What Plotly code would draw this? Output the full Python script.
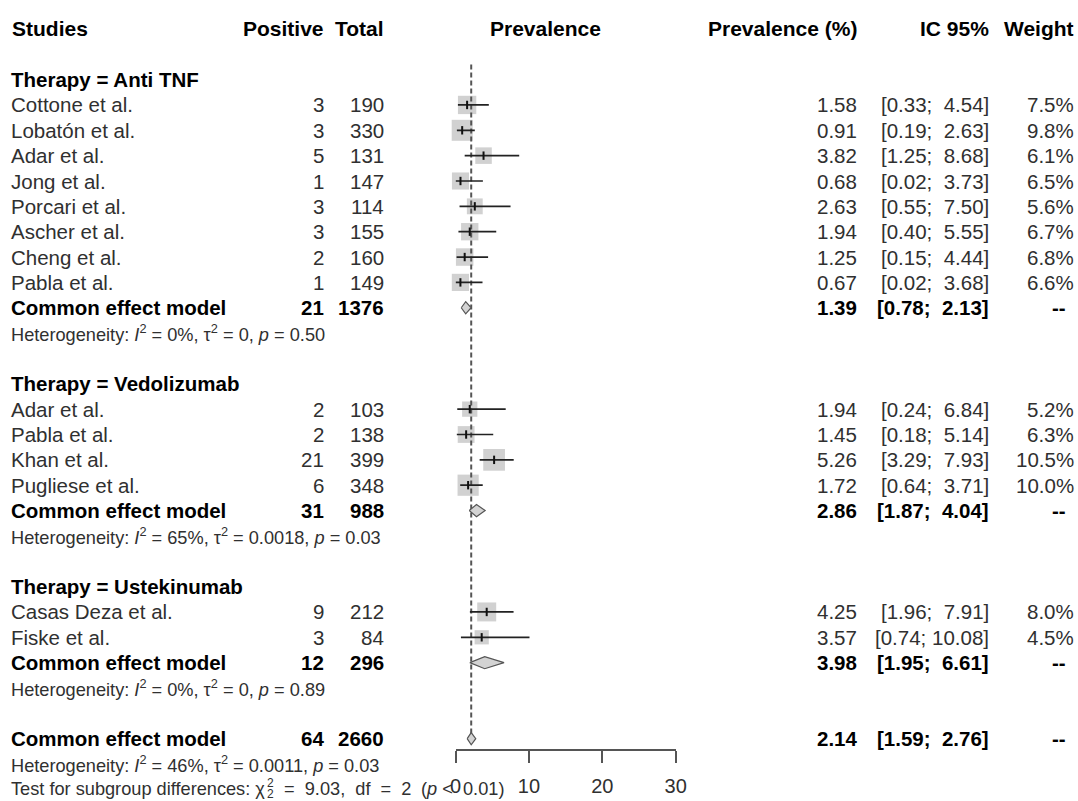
import math
import plotly.graph_objects as go

# ---- data -------------------------------------------------------------
groups = ["Anti TNF", "Vedolizumab", "Ustekinumab"]

study_names = [
    "Cottone et al.", "Lobatón et al.", "Adar et al.", "Jong et al.",
    "Porcari et al.", "Ascher et al.", "Cheng et al.", "Pabla et al.",
    "Adar et al.", "Pabla et al.", "Khan et al.", "Pugliese et al.",
    "Casas Deza et al.", "Fiske et al.",
]
study_group = [0, 0, 0, 0, 0, 0, 0, 0, 1, 1, 1, 1, 2, 2]
positive = [3, 3, 5, 1, 3, 3, 2, 1, 2, 2, 21, 6, 9, 3]
total = [190, 330, 131, 147, 114, 155, 160, 149, 103, 138, 399, 348, 212, 84]
prevalence = [1.58, 0.91, 3.82, 0.68, 2.63, 1.94, 1.25, 0.67,
              1.94, 1.45, 5.26, 1.72, 4.25, 3.57]
ci_lower = [0.33, 0.19, 1.25, 0.02, 0.55, 0.40, 0.15, 0.02,
            0.24, 0.18, 3.29, 0.64, 1.96, 0.74]
ci_upper = [4.54, 2.63, 8.68, 3.73, 7.50, 5.55, 4.44, 3.68,
            6.84, 5.14, 7.93, 3.71, 7.91, 10.08]
weight = [7.5, 9.8, 6.1, 6.5, 5.6, 6.7, 6.8, 6.6,
          5.2, 6.3, 10.5, 10.0, 8.0, 4.5]

grp_positive = [21, 31, 12]
grp_total = [1376, 988, 296]
grp_prev = [1.39, 2.86, 3.98]
grp_lower = [0.78, 1.87, 1.95]
grp_upper = [2.13, 4.04, 6.61]
grp_i2 = ["0%", "65%", "0%"]
grp_tau2 = ["0", "0.0018", "0"]
grp_p = ["0.50", "0.03", "0.89"]

all_positive = 64
all_total = 2660
all_prev = 2.14
all_lower = 1.59
all_upper = 2.76
all_i2 = "46%"
all_tau2 = "0.0011"
all_p = "0.03"
test_chi2 = "9.03"
test_df = "2"
test_p = "0.01"

x_ticks = [0, 10, 20, 30]

# ---- page geometry ----------------------------------------------------
W, H = 1078, 801
FONT = "Liberation Sans, Arial, sans-serif"
REG = "#303030"
BLK = "#000000"
ROW0_PX = 79.6      # pixel centre of the first group header
ROW_PX = 25.35      # row pitch
AXIS_PX = 750       # pixel row of the x-axis line
X0_PX, X1_PX = 455.5, 675.7   # forest panel, 0..30

y_top = (0 - ROW0_PX) / ROW_PX
y_bot = (H - ROW0_PX) / ROW_PX

# column positions (px)
C_STUDY = 10
C_POS = 325
C_TOT = 385
C_FOREST_HDR = 546
C_PREV = 858
C_CI = 990
C_W = 1075
C_DASH = 1067

NB = "\u00a0"
MAIN = 20.5
SMALL = 18.2


def fmt_ci(lo, up):
    return "[" + f"{lo:.2f};" + NB + f"{up:.2f}".rjust(5).replace(" ", NB) + "]"


annotations = []


def txt(xpx, row, s, anchor="left", size=MAIN, bold=False, color=None):
    annotations.append(dict(
        xref="paper", yref="y", x=xpx / W, y=row, text=s,
        xanchor=anchor, yanchor="middle", showarrow=False, borderpad=0,
        font=dict(family=FONT, size=size,
                  color=color or (BLK if bold else REG),
                  weight="bold" if bold else "normal"),
    ))


def het_text(i2, tau2, p):
    return (f"Heterogeneity: <i>I</i><sup>2</sup> = {i2}, "
            f"τ<sup>2</sup> = {tau2}, <i>p</i> = {p}")


# headers
HDR = -2
txt(C_STUDY + 1, HDR, "Studies", size=21, bold=True)
txt(C_POS, HDR, "Positive", anchor="right", size=21, bold=True)
txt(C_TOT, HDR, "Total", anchor="right", size=21, bold=True)
txt(C_FOREST_HDR, HDR, "Prevalence", anchor="center", size=21, bold=True)
txt(C_PREV, HDR, "Prevalence (%)", anchor="right", size=21, bold=True)
txt(C_CI, HDR, "IC 95%", anchor="right", size=21, bold=True)
txt(C_W, HDR, "Weight", anchor="right", size=21, bold=True)

# row layout
study_rows = []
summary_rows = []
row = 0
for g, gname in enumerate(groups):
    txt(C_STUDY, row, f"Therapy = {gname}", bold=True)
    row += 1
    for i in range(len(study_names)):
        if study_group[i] != g:
            continue
        study_rows.append(row)
        txt(C_STUDY, row, study_names[i])
        txt(C_POS, row, str(positive[i]), anchor="right")
        txt(C_TOT, row, str(total[i]), anchor="right")
        txt(C_PREV, row, f"{prevalence[i]:.2f}", anchor="right")
        txt(C_CI, row, fmt_ci(ci_lower[i], ci_upper[i]), anchor="right")
        txt(C_W, row, f"{weight[i]:.1f}%", anchor="right")
        row += 1
    summary_rows.append(row)
    txt(C_STUDY, row, "Common effect model", bold=True)
    txt(C_POS, row, str(grp_positive[g]), anchor="right", bold=True)
    txt(C_TOT, row, str(grp_total[g]), anchor="right", bold=True)
    txt(C_PREV, row, f"{grp_prev[g]:.2f}", anchor="right", bold=True)
    txt(C_CI, row, fmt_ci(grp_lower[g], grp_upper[g]), anchor="right", bold=True)
    txt(C_DASH, row, "--", anchor="right", bold=True)
    row += 1
    txt(C_STUDY, row, het_text(grp_i2[g], grp_tau2[g], grp_p[g]), size=SMALL)
    row += 2

overall_row = row
txt(C_STUDY, overall_row, "Common effect model", bold=True)
txt(C_POS, overall_row, str(all_positive), anchor="right", bold=True)
txt(C_TOT, overall_row, str(all_total), anchor="right", bold=True)
txt(C_PREV, overall_row, f"{all_prev:.2f}", anchor="right", bold=True)
txt(C_CI, overall_row, fmt_ci(all_lower, all_upper), anchor="right", bold=True)
txt(C_DASH, overall_row, "--", anchor="right", bold=True)
txt(C_STUDY, overall_row + 1, het_text(all_i2, all_tau2, all_p), size=SMALL)

# subgroup test line, with stacked chi-square indices
tr = overall_row + 2
txt(C_STUDY, tr, "Test for subgroup differences: χ", size=SMALL)
txt(266, tr - 0.24, "2", size=12)
txt(266, tr + 0.2, "2", size=12)
txt(283, tr, f"={NB}{NB}{test_chi2},{NB}{NB}df{NB}{NB}={NB}{NB}{test_df}", size=SMALL)
txt(420, tr, "(<i>p</i> <", size=SMALL)
txt(462, tr, f"{test_p})", size=SMALL)

# ---- forest marks -----------------------------------------------------
fig = go.Figure()

# squares, area proportional to weight
fig.add_trace(go.Scatter(
    x=prevalence, y=study_rows, mode="markers",
    marker=dict(symbol="square", size=[6.7 * math.sqrt(w) for w in weight],
                color="#bebebe", line=dict(width=0)),
    cliponaxis=False, hoverinfo="skip", showlegend=False,
))

# reference line at the overall estimate
fig.add_trace(go.Scatter(
    x=[all_prev, all_prev], y=[-0.6, overall_row], mode="lines",
    line=dict(color="#555555", width=2, dash="5px,3px"),
    cliponaxis=False, hoverinfo="skip", showlegend=False,
))

# confidence intervals
cx, cy = [], []
for lo, up, r in zip(ci_lower, ci_upper, study_rows):
    cx += [lo, up, None]
    cy += [r, r, None]
fig.add_trace(go.Scatter(
    x=cx, y=cy, mode="lines", line=dict(color="#222222", width=1.7),
    cliponaxis=False, hoverinfo="skip", showlegend=False,
))
fig.add_trace(go.Scatter(
    x=prevalence, y=study_rows, mode="markers",
    marker=dict(symbol="line-ns", size=6, line=dict(color="#111111", width=2)),
    cliponaxis=False, hoverinfo="skip", showlegend=False,
))

# pooled diamonds
h = 0.24
for est, lo, up, r in zip(grp_prev + [all_prev], grp_lower + [all_lower],
                          grp_upper + [all_upper], summary_rows + [overall_row]):
    fig.add_trace(go.Scatter(
        x=[lo, est, up, est, lo], y=[r, r - h, r, r + h, r],
        mode="lines", fill="toself", fillcolor="#d3d3d3",
        line=dict(color="#555555", width=1.2),
        cliponaxis=False, hoverinfo="skip", showlegend=False,
    ))

fig.update_layout(
    width=W, height=H, autosize=False,
    margin=dict(l=0, r=0, t=0, b=0, pad=0, autoexpand=False),
    paper_bgcolor="white", plot_bgcolor="white",
    showlegend=False,
    annotations=annotations,
    xaxis=dict(
        domain=[X0_PX / W, X1_PX / W], range=[0, 30],
        anchor="free", position=(H - AXIS_PX) / H, automargin=False,
        tickvals=x_ticks, ticktext=[str(t) for t in x_ticks],
        ticks="outside", ticklen=12, tickwidth=1.5, tickcolor="#555555",
        showline=True, linecolor="#555555", linewidth=1.5,
        showgrid=False, zeroline=False, fixedrange=True,
        tickfont=dict(family=FONT, size=20, color=REG),
        ticklabelstandoff=6,
    ),
    yaxis=dict(
        domain=[0, 1], range=[y_bot, y_top], automargin=False,
        visible=False, fixedrange=True,
    ),
)

fig.write_html(
    "out.html",
    config={"responsive": False, "displayModeBar": False},
    post_script="document.body.style.margin='0';document.body.style.overflow='hidden';",
)
